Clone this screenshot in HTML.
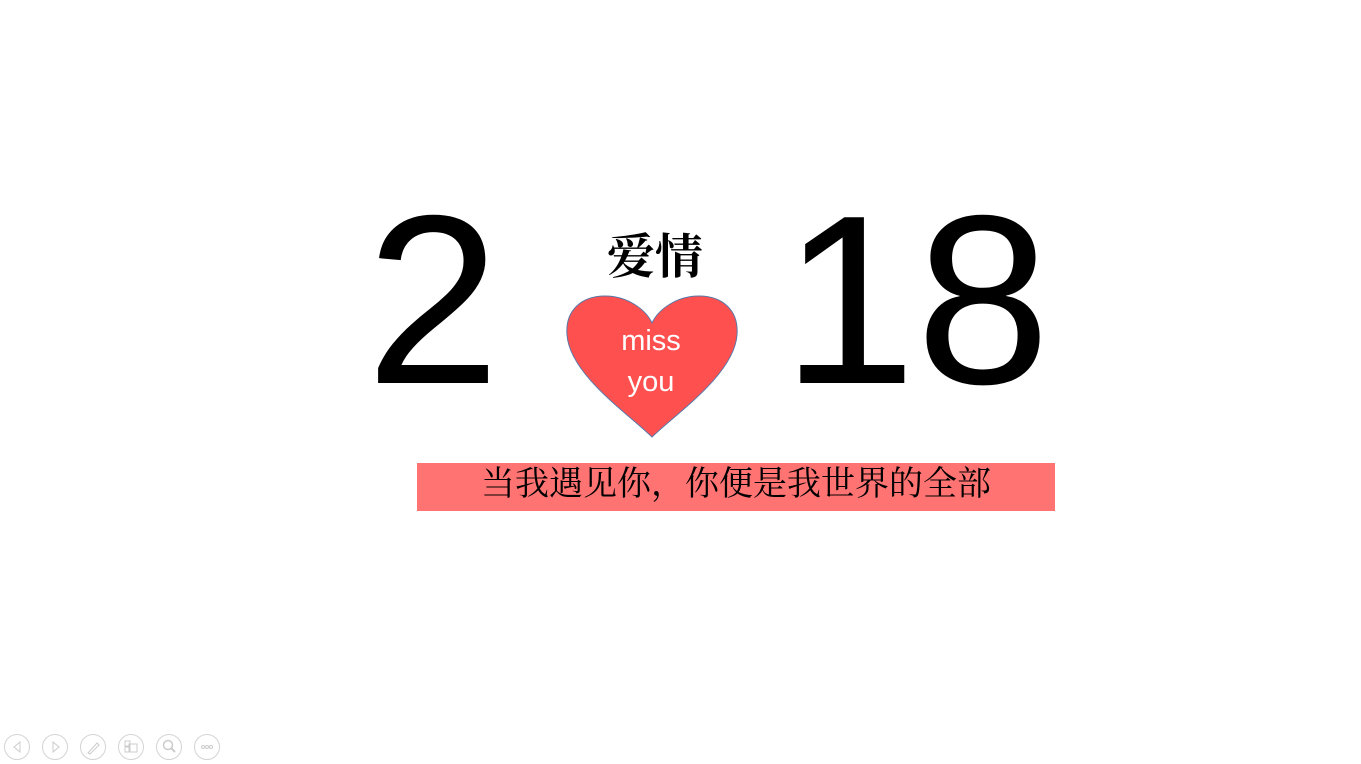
<!DOCTYPE html>
<html><head><meta charset="utf-8">
<style>
html,body{margin:0;padding:0;background:#fff;}
body{width:1361px;height:764px;position:relative;overflow:hidden;font-family:"Liberation Sans","Noto Sans CJK SC",sans-serif;}
.big{position:absolute;font-size:241px;line-height:241px;color:#000;white-space:nowrap;}
.ctl{position:absolute;top:734px;width:26px;height:26px;border:1px solid #d4d4d4;border-radius:50%;box-sizing:border-box;}
.ctl svg{position:absolute;left:0;top:0;}
</style></head>
<body>
<div class="big" style="left:366px;top:180px;">2</div>
<div class="big" style="left:782px;top:180px;">18</div>
<div style="position:absolute;left:555px;width:200px;text-align:center;top:228px;font-size:48px;line-height:60px;font-weight:bold;font-family:'Liberation Serif','Noto Serif CJK SC',serif;">爱情</div>
<svg style="position:absolute;left:560px;top:290px;" width="186" height="152" viewBox="0 0 186 152">
<path d="M92 147 C70 125 10 85 7 45 C5 20 22 6 45 6 C68 6 86 20 92 33 C98 20 116 6 139 6 C162 6 179 20 177 45 C174 85 114 125 92 147 Z" fill="#ff5050" stroke="#5a78a8" stroke-width="1"/>
</svg>
<div style="position:absolute;left:591px;width:120px;text-align:center;top:321px;color:#fff;font-size:29px;line-height:41px;">miss<br>you</div>
<div style="position:absolute;left:417px;top:463px;width:638px;height:48px;background:#ff7373;"></div>
<div style="position:absolute;left:417px;top:463px;width:638px;height:48px;line-height:44px;text-align:center;font-size:34px;color:#000;font-family:'Liberation Serif','Noto Serif CJK SC',serif;white-space:nowrap;">当我遇见你，你便是我世界的全部</div>

<div class="ctl" style="left:4px;"><svg width="24" height="24"><path d="M15 7 L9 12 L15 17 Z" fill="none" stroke="#ccc"/></svg></div>
<div class="ctl" style="left:42px;"><svg width="24" height="24"><path d="M10 7 L16 12 L10 17 Z" fill="none" stroke="#ccc"/></svg></div>
<div class="ctl" style="left:80px;"><svg width="24" height="24"><path d="M7 18 L16 8 L18 10 L9 19 Z" fill="none" stroke="#ccc"/></svg></div>
<div class="ctl" style="left:118px;"><svg width="24" height="24"><rect x="6" y="6" width="5" height="5" fill="none" stroke="#ccc"/><rect x="6" y="12" width="5" height="5" fill="none" stroke="#ccc"/><rect x="10" y="9" width="8" height="8" fill="none" stroke="#ccc"/></svg></div>
<div class="ctl" style="left:156px;"><svg width="24" height="24"><circle cx="11" cy="10" r="4.5" fill="none" stroke="#ccc" stroke-width="1.5"/><path d="M14 13 L18 17" stroke="#ccc" stroke-width="2"/></svg></div>
<div class="ctl" style="left:194px;"><svg width="24" height="24"><circle cx="8" cy="12" r="1.5" fill="none" stroke="#ccc"/><circle cx="12" cy="12" r="1.5" fill="none" stroke="#ccc"/><circle cx="16" cy="12" r="1.5" fill="none" stroke="#ccc"/></svg></div>
</body></html>
